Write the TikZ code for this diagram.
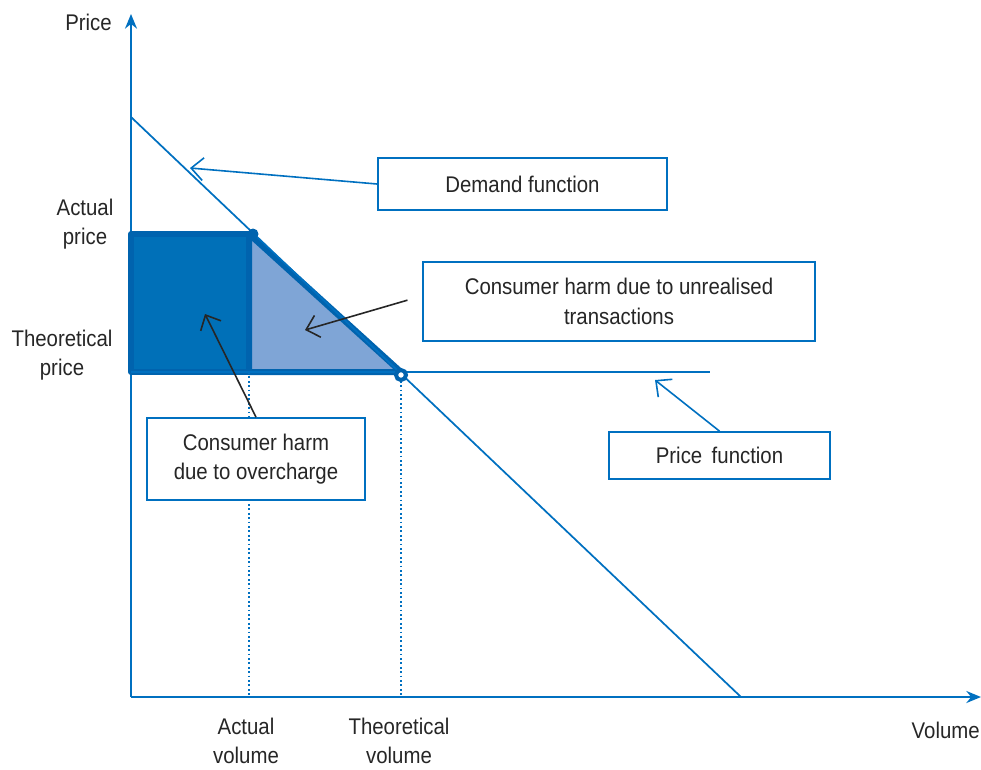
\documentclass[tikz,border=0pt]{standalone}
\usepackage{fontspec}
\setmainfont[FakeStretch=0.9]{Liberation Sans}
\usepackage{xcolor}
\usetikzlibrary{positioning,arrows.meta}
\definecolor{lineblue}{HTML}{0070C0}
\definecolor{darkblue}{HTML}{0070B8}
\definecolor{edgeblue}{HTML}{0063AE}
\definecolor{lightblue}{HTML}{7FA5D6}
\definecolor{txt}{HTML}{262626}
\tikzset{
  lbl/.style={font=\fontsize{17}{22}\selectfont,text=txt,align=center,inner sep=0pt},
  callout/.style={lbl,draw=lineblue,line width=1.3pt,fill=white},
  pointer/.style={line width=1.2pt,-{Straight Barb[length=9pt,width=17pt]}},
  axis/.style={lineblue,line width=1.5pt,-{Stealth[length=11pt,width=9pt]}}
}
\begin{document}
\begin{tikzpicture}[x=0.75pt,y=-0.75pt]
\useasboundingbox (0,0) rectangle (981,769);
% axes
\coordinate (O) at (131,697);
\coordinate (ytop) at (131,14);
\coordinate (xend) at (981,697);
\draw[axis] (O)--(ytop);
\draw[axis] (O)--(xend);
% areas
\coordinate (pa) at (249,234);
\coordinate (pt) at (401,372);
\filldraw[fill=darkblue,draw=edgeblue,line width=4.5pt,line join=round] (131,234) rectangle (pt-|pa);
\filldraw[fill=lightblue,draw=edgeblue,line width=4.5pt,line join=round] (pa)--(pt-|pa)--(pt)--cycle;
% demand and price functions
\draw[lineblue,line width=1.3pt] (131,117)--(741,697);
\draw[lineblue,line width=1.5pt] (131,372)--(710,372);
\draw[lineblue,dotted,line width=1.3pt] (pt-|pa)--(O-|pa);
\draw[lineblue,dotted,line width=1.3pt] (pt)--(O-|pt);
\fill[edgeblue] (253,234) circle (5.5);
\draw[edgeblue,line width=3pt,fill=white] (401,375) circle (5);
% axis labels
\node[lbl,anchor=east] (price) at (112,22) {Price};
\node[lbl] (aprice) at (85,224) {Actual\\price};
\node[lbl] (tprice) at (62,355) {Theoretical\\price};
\node[lbl] (avol) at (246,741) {Actual\\volume};
\node[lbl] (tvol) at (399,741) {Theoretical\\volume};
\node[lbl,anchor=east] (vol) at (980,730) {Volume};
% callouts
\node[callout,minimum width=216.75pt,minimum height=39pt] (demand) at (522.5,184) {Demand function};
\node[callout,minimum width=294pt,minimum height=59.25pt] (unreal) at (619,301.5) {Consumer harm due to unrealised\\transactions};
\node[callout,minimum width=165.75pt,minimum height=35.25pt] (pfun) at (719.5,455.5) {Price\, function};
\node[callout,minimum width=163.5pt,minimum height=61.5pt] (over) at (256,459) {Consumer harm\\due to overcharge};
\coordinate (dtip) at (190,168);
\coordinate (utip) at (305,330);
\coordinate (ptip) at (655,380);
\coordinate (otip) at (205,314);
\draw[pointer,lineblue] (demand.west)--(dtip);
\draw[pointer,txt] ([xshift=-11pt,yshift=1pt]unreal.west)--(utip);
\draw[pointer,lineblue] (pfun.north)--(ptip);
\draw[pointer,txt] (over.north)--(otip);
\end{tikzpicture}
\end{document}
